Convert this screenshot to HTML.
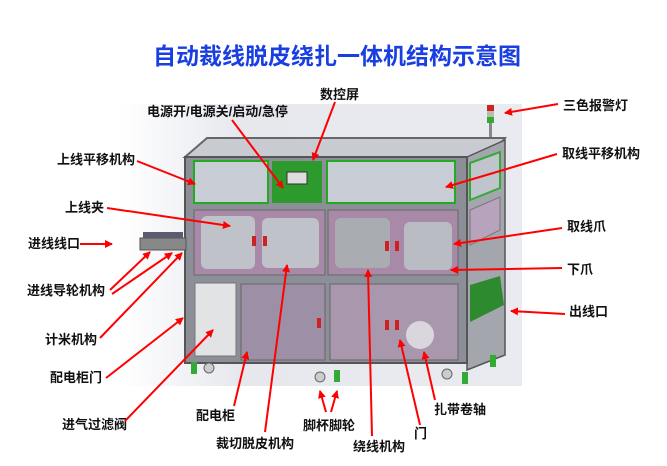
<!DOCTYPE html>
<html><head><meta charset="utf-8"><style>
html,body{margin:0;padding:0;background:#fff;}
svg{display:block;}
text{font-family:"Liberation Sans","Noto Sans CJK SC",sans-serif;font-weight:bold;fill:#111;font-size:13px;}
</style></head><body>
<svg width="667" height="466" viewBox="0 0 667 466" xmlns="http://www.w3.org/2000/svg">
<defs>
<linearGradient id="bg" x1="0" y1="0" x2="1" y2="0"><stop offset="0" stop-color="#fff"/><stop offset="0.3" stop-color="#e6e8ee"/><stop offset="1" stop-color="#e9ebf0"/></linearGradient>
<marker id="ar" markerWidth="8" markerHeight="8" refX="7" refY="4" orient="auto" markerUnits="userSpaceOnUse"><path d="M0,0 L8,4 L0,8 z" fill="#f00"/></marker>
</defs>
<rect x="0" y="0" width="667" height="466" fill="#fff"/>
<rect x="120" y="104" width="402" height="282" fill="url(#bg)"/>
<text x="337" y="64" text-anchor="middle" style="font-size:23px;fill:#1a3fe0">自动裁线脱皮绕扎一体机结构示意图</text>

<rect x="487" y="105" width="7" height="6" fill="#c22"/><rect x="487" y="111" width="7" height="6" fill="#bba"/><rect x="487" y="117" width="7" height="6" fill="#3a3"/>
<rect x="489" y="123" width="3" height="22" fill="#888"/>
<polygon points="185,157 207,138 505,138 490,157" fill="#c9cbd3" stroke="#666" stroke-width="2"/>
<polygon points="467,157 505,140 505,355 467,370" fill="#a4a6ae" stroke="#555" stroke-width="1.5"/>
<polygon points="470,210 500,197 500,230 470,245" fill="#b7a3bb" stroke="#777"/>
<polygon points="470,285 500,276 504,305 470,322" fill="#2e8a2e"/>
<polygon points="470,163 500,152 500,188 470,200" fill="#c0c4cc" stroke="#3a3" stroke-width="2"/>
<rect x="185" y="157" width="282" height="206" fill="#8d8f98" stroke="#555" stroke-width="2"/>
<rect x="194" y="161" width="74" height="42" fill="#c8ccd4" stroke="#2a2" stroke-width="2"/>
<rect x="272" y="161" width="50" height="42" fill="#2d9a2d"/>
<rect x="287" y="172" width="20" height="12" fill="#ddd" stroke="#333"/>
<rect x="327" y="161" width="128" height="42" fill="#c8ccd4" stroke="#2a2" stroke-width="2"/>
<rect x="194" y="210" width="131" height="65" fill="#a88aa8" stroke="#666"/>
<rect x="328" y="210" width="130" height="65" fill="#a88aa8" stroke="#666"/>
<rect x="201" y="216" width="54" height="53" rx="6" fill="#bfc3c9"/>
<rect x="262" y="218" width="57" height="50" rx="6" fill="#bfc3c9"/>
<rect x="335" y="218" width="55" height="50" rx="6" fill="#a9adb2"/>
<rect x="404" y="222" width="48" height="48" rx="6" fill="#b9bdc3"/>
<rect x="252" y="236" width="4" height="10" fill="#c22"/><rect x="263" y="236" width="4" height="10" fill="#c22"/>
<rect x="385" y="241" width="4" height="10" fill="#c22"/><rect x="395" y="241" width="4" height="10" fill="#c22"/>
<rect x="195" y="283" width="41" height="73" fill="#e2e3e5" stroke="#777"/>
<rect x="241" y="284" width="84" height="76" fill="#9d8fa5" stroke="#666"/>
<rect x="330" y="284" width="128" height="76" fill="#a897ad" stroke="#666"/>
<circle cx="420" cy="335" r="14" fill="#d9d6dd"/>
<rect x="317" y="318" width="4" height="10" fill="#c22"/><rect x="385" y="320" width="4" height="10" fill="#c22"/><rect x="395" y="320" width="4" height="10" fill="#c22"/>
<rect x="140" y="238" width="46" height="12" fill="#888" stroke="#555"/>
<rect x="143" y="232" width="40" height="6" fill="#5a5a70"/>
<g fill="#3a3"><rect x="191" y="362" width="6" height="12"/><rect x="334" y="370" width="6" height="12"/><rect x="490" y="355" width="6" height="12"/><rect x="462" y="372" width="6" height="12"/></g>
<g fill="#ccc" stroke="#666"><circle cx="209" cy="368" r="5"/><circle cx="320" cy="377" r="5"/><circle cx="447" cy="374" r="5"/></g>

<text x="147" y="116">电源开/电源关/启动/急停</text>
<text x="320" y="99">数控屏</text>
<text x="563" y="110">三色报警灯</text>
<text x="57" y="164">上线平移机构</text>
<text x="562" y="158">取线平移机构</text>
<text x="65" y="212">上线夹</text>
<text x="28" y="248">进线线口</text>
<text x="567" y="231">取线爪</text>
<text x="567" y="274">下爪</text>
<text x="27" y="295">进线导轮机构</text>
<text x="569" y="316">出线口</text>
<text x="45" y="344">计米机构</text>
<text x="50" y="382">配电柜门</text>
<text x="62" y="429">进气过滤阀</text>
<text x="196" y="420">配电柜</text>
<text x="216" y="448">裁切脱皮机构</text>
<text x="303" y="430">脚杯脚轮</text>
<text x="353" y="451">绕线机构</text>
<text x="414" y="438">门</text>
<text x="434" y="414">扎带卷轴</text>

<g stroke="#f00" stroke-width="2" fill="none" marker-end="url(#ar)">
<line x1="232" y1="120" x2="283" y2="188"/>
<line x1="335" y1="102" x2="313" y2="160"/>
<line x1="558" y1="104" x2="505" y2="113"/>
<line x1="137" y1="161" x2="195" y2="184"/>
<line x1="557" y1="154" x2="446" y2="187"/>
<line x1="107" y1="208" x2="230" y2="226"/>
<line x1="80" y1="244" x2="112" y2="244"/>
<line x1="562" y1="228" x2="454" y2="244"/>
<line x1="562" y1="268" x2="451" y2="270"/>
<line x1="110" y1="290" x2="150" y2="252"/>
<line x1="112" y1="294" x2="172" y2="253"/>
<line x1="565" y1="314" x2="511" y2="311"/>
<line x1="100" y1="338" x2="182" y2="253"/>
<line x1="106" y1="378" x2="183" y2="318"/>
<line x1="125" y1="421" x2="213" y2="330"/>
<line x1="234" y1="406" x2="247" y2="352"/>
<line x1="265" y1="432" x2="287" y2="265"/>
<line x1="326" y1="412" x2="320" y2="391"/>
<line x1="331" y1="412" x2="337" y2="391"/>
<line x1="372" y1="436" x2="368" y2="270"/>
<line x1="420" y1="425" x2="400" y2="340"/>
<line x1="435" y1="400" x2="424" y2="352"/>
</g>
</svg>
</body></html>
